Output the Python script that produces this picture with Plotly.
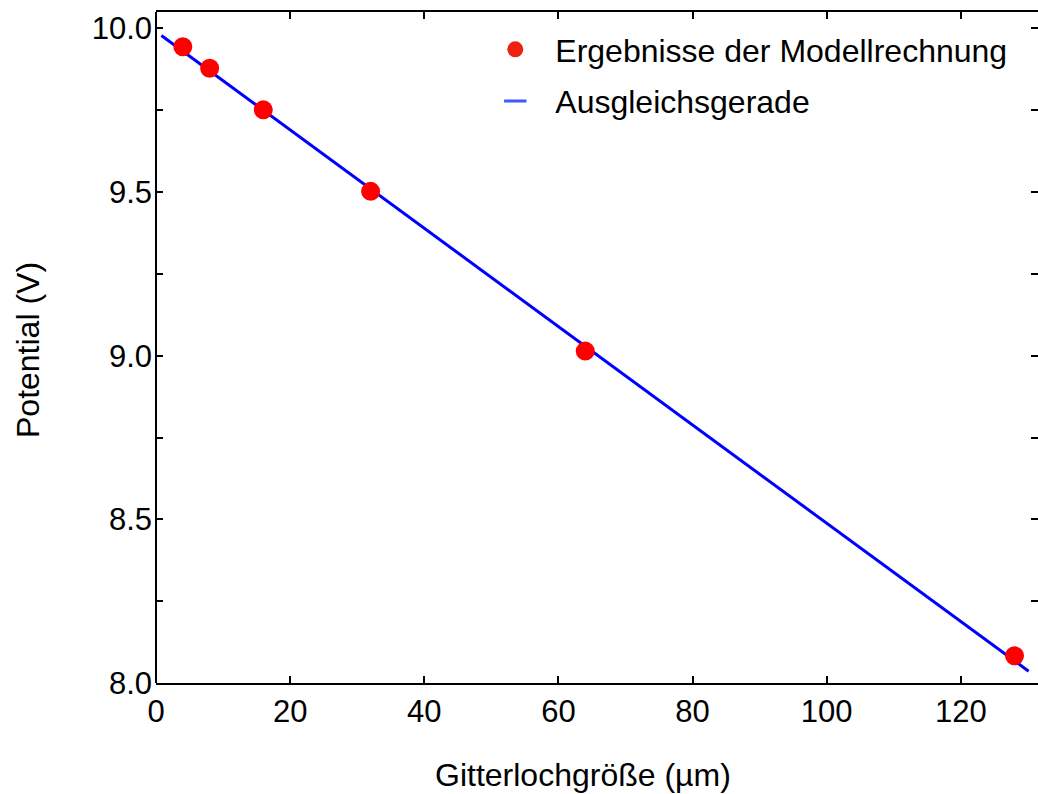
import plotly.graph_objects as go

# Data
grid_size = [4, 8, 16, 32, 64, 128]          # Gitterlochgröße (µm)
potential = [9.944, 9.878, 9.751, 9.502, 9.014, 8.083]  # Potential (V)

fit_x = [0.8, 130.1]
fit_y = [9.978, 8.036]

legend_points = "Ergebnisse der Modellrechnung"
legend_line = "Ausgleichsgerade"
x_title = "Gitterlochgröße (µm)"
y_title = "Potential (V)"

FONT = "Liberation Sans, Arial, Helvetica, sans-serif"
TICK_FS = 31
TEXT_FS = 32

fig = go.Figure()

fig.add_trace(go.Scatter(
    x=fit_x, y=fit_y, mode="lines",
    line=dict(color="#0000ff", width=3),
    showlegend=False, hoverinfo="skip",
))
fig.add_trace(go.Scatter(
    x=grid_size, y=potential, mode="markers",
    marker=dict(color="#ff0000", size=19, line=dict(width=0)),
    showlegend=False,
))
# legend entries
fig.add_trace(go.Scatter(
    x=[None], y=[None], mode="markers", name=legend_points,
    legendgroup="a",
    marker=dict(color="#ee2211", size=17, line=dict(width=0)),
))
fig.add_trace(go.Scatter(
    x=[None], y=[None], mode="markers", name=legend_line,
    legendgroup="b",
    marker=dict(symbol="line-ew", color="#3a5cff", size=16,
                line=dict(color="#3a5cff", width=3)),
))

tick_common = dict(
    ticks="inside", ticklen=7, tickwidth=2, tickcolor="black",
    showgrid=False, zeroline=False,
    tickfont=dict(family=FONT, size=TICK_FS, color="black"),
)

fig.update_layout(
    width=1038, height=794,
    margin=dict(l=156, r=0, t=12, b=111, pad=0),
    paper_bgcolor="white", plot_bgcolor="white",
    font=dict(family=FONT, size=TEXT_FS, color="black"),
    xaxis=dict(range=[0, 131.5], dtick=20, tick0=0,
               showline=True, linecolor="black", linewidth=2, mirror="ticks",
               **tick_common),
    yaxis=dict(range=[8.0, 10.05], dtick=0.5, tick0=8.0, tickformat=".1f",
               showline=False, mirror="ticks", ticklabelstandoff=3,
               minor=dict(dtick=0.25, tick0=8.0, ticks="inside", ticklen=7,
                          tickwidth=2, tickcolor="black", showgrid=False),
               **tick_common),
    legend=dict(
        x=0.362, y=0.985, xanchor="left", yanchor="top",
        bgcolor="rgba(0,0,0,0)", borderwidth=0,
        itemwidth=70, traceorder="grouped", tracegroupgap=7,
        font=dict(family=FONT, size=TEXT_FS, color="black"),
    ),
    shapes=[dict(type="line", xref="x domain", yref="y domain",
                 x0=0, x1=0, y0=0, y1=1, layer="above",
                 line=dict(color="black", width=2))],
    annotations=[
        dict(text=x_title, xref="paper", yref="paper",
             x=(582.5 - 156) / 882, y=-(775 - 683) / 671,
             xanchor="center", yanchor="middle", showarrow=False,
             font=dict(family=FONT, size=TEXT_FS, color="black")),
        dict(text=y_title, xref="paper", yref="paper",
             x=-(156 - 28) / 882, y=(683 - 350) / 671,
             xanchor="center", yanchor="middle", showarrow=False,
             textangle=-90,
             font=dict(family=FONT, size=TEXT_FS, color="black")),
    ],
)

fig.write_html("out.html")
